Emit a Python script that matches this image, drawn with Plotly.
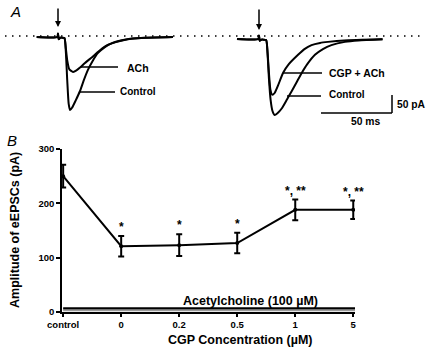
import plotly.graph_objects as go

# ---------------- Panel B data ----------------
conc_labels = ["control", "0", "0.2", "0.5", "1", "5"]
amplitude = [250, 121, 123, 127, 188, 188]
amplitude_err = [21, 19, 20, 19, 19, 17]
sig_marks = ["", "*", "*", "*", "*, **", "*, **"]

# ---------------- Panel A traces (time ms from stimulus, current pA) ----------------
ctrlA_t = [-15, -0.4, 0, 0.5, 1.5, 4.5, 5.5, 6.5, 7.5, 8.5, 10, 12.5, 15.5, 18, 21, 24.5, 28, 33, 38, 45, 52, 62, 81]
ctrlA_i = [0, 0, 10, -6, -2, -3, -40, -120, -185, -203, -196, -176, -150, -122, -92, -66, -45, -28, -17, -9, -4, -2, 0]
achA_t = [-15, -0.4, 0, 0.5, 1.5, 4.5, 5.5, 6.5, 8, 10.6, 13, 15.5, 19, 24, 28, 31, 35, 40, 46, 52, 62, 81]
achA_i = [0, 0, 10, -6, -2, -3, -30, -65, -90, -97, -93, -85, -72, -56, -42, -32, -22, -15, -9, -5, -2, 0]

ctrlB_t = [-15.5, -0.4, 0, 0.5, 1.5, 5.0, 6.0, 7.0, 8.2, 9.5, 11, 13, 16, 19.7, 23, 26.5, 30, 34, 39.4, 45, 51, 60.5, 70, 87]
ctrlB_i = [0, 0, 10, -5, -2, -3, -40, -110, -170, -200, -211, -206, -193, -168, -145, -120, -95, -70, -44, -28, -17, -8, -4, -1]
cgpB_t = [-15.5, -0.4, 0, 0.5, 1.5, 5.0, 6.0, 7.0, 8.0, 9.3, 11, 13.5, 17, 21, 27.5, 32, 37, 43, 48.6, 60, 87]
cgpB_i = [0, 0, 10, -5, -2, -3, -35, -95, -140, -155, -150, -128, -94, -70, -44, -28, -17, -11, -8, -4, -1]

W, H = 429, 349
def px(x):
    return x / W
def py(y):
    return 1 - y / H

# pixel scale of panel A (from scale bar: 50 ms = 71 px, 50 pA = 18 px)
MSPX = 71 / 50.0
PAPX = 18 / 50.0

FONT = "Liberation Sans, Arial, sans-serif"

fig = go.Figure()

# Panel A traces
for t, i, ax in [(ctrlA_t, ctrlA_i, "2"), (achA_t, achA_i, "2"), (ctrlB_t, ctrlB_i, "3"), (cgpB_t, cgpB_i, "3")]:
    fig.add_trace(go.Scatter(x=t, y=i, mode="lines", line=dict(color="black", width=2, shape="spline", smoothing=0.5),
                             xaxis="x" + ax, yaxis="y" + ax, showlegend=False, hoverinfo="skip"))

# Panel B line
fig.add_trace(go.Scatter(
    x=list(range(len(conc_labels))), y=amplitude, mode="lines+markers",
    line=dict(color="black", width=2), marker=dict(color="black", size=4),
    error_y=dict(type="data", array=amplitude_err, color="black", thickness=2, width=3),
    showlegend=False, hoverinfo="skip"))

fig.update_layout(
    template="none",
    width=W, height=H, margin=dict(l=0, r=0, t=0, b=0, pad=0, autoexpand=False),
    paper_bgcolor="white", plot_bgcolor="white",
    font=dict(family=FONT, color="black"),
    xaxis=dict(domain=[px(62), px(355)], range=[-0.02, 5.03], tickmode="array",
               tickvals=list(range(len(conc_labels))), ticktext=conc_labels,
               ticks="outside", ticklen=3, tickwidth=1.5, tickcolor="black",
               showline=True, linecolor="black", linewidth=1.5, showgrid=False, zeroline=False,
               tickfont=dict(size=9.5, family=FONT, weight="bold"), anchor="y", automargin=False),
    yaxis=dict(domain=[py(312), py(149)], range=[0, 300], tickvals=[0, 100, 200, 300],
               ticks="outside", ticklen=4, tickwidth=1.5, tickcolor="black",
               showline=True, linecolor="black", linewidth=1.5, showgrid=False, zeroline=False,
               tickfont=dict(size=9.5, family=FONT, weight="bold"), anchor="x", automargin=False),
    xaxis2=dict(domain=[0, px(215)], range=[(0 - 58) / MSPX, (215 - 58) / MSPX], visible=False,
                anchor="y2", automargin=False),
    yaxis2=dict(domain=[py(130), 1], range=[-(130 - 37) / PAPX, 37 / PAPX], visible=False,
                anchor="x2", automargin=False),
    xaxis3=dict(domain=[px(215), 1], range=[(215 - 259) / MSPX, (429 - 259) / MSPX], visible=False,
                anchor="y3", automargin=False),
    yaxis3=dict(domain=[py(130), 1], range=[-(130 - 39) / PAPX, 39 / PAPX], visible=False,
                anchor="x3", automargin=False),
)

shapes = []
# dotted baseline
shapes.append(dict(type="line", xref="paper", yref="paper", x0=px(5), x1=px(425), y0=py(36), y1=py(36),
                   line=dict(color="black", width=1.5, dash="1.5px,5.5px")))
# label leader lines panel A left
shapes.append(dict(type="line", xref="x2", yref="y2", x0=(80 - 58) / MSPX, x1=(118 - 58) / MSPX,
                   y0=-(67 - 37) / PAPX, y1=-(67 - 37) / PAPX, line=dict(color="black", width=1.5)))
shapes.append(dict(type="line", xref="x2", yref="y2", x0=(80 - 58) / MSPX, x1=(115 - 58) / MSPX,
                   y0=-(92 - 37) / PAPX, y1=-(92 - 37) / PAPX, line=dict(color="black", width=1.5)))
# label leader lines panel A right
shapes.append(dict(type="line", xref="x3", yref="y3", x0=(283 - 259) / MSPX, x1=(322 - 259) / MSPX,
                   y0=-(73 - 39) / PAPX, y1=-(73 - 39) / PAPX, line=dict(color="black", width=1.5)))
shapes.append(dict(type="line", xref="x3", yref="y3", x0=(287 - 259) / MSPX, x1=(321 - 259) / MSPX,
                   y0=-(96 - 39) / PAPX, y1=-(96 - 39) / PAPX, line=dict(color="black", width=1.5)))
# scale bar: 50 ms, 50 pA
sb_t1 = (392 - 259) / MSPX
sb_i0 = -(113 - 39) / PAPX
shapes.append(dict(type="line", xref="x3", yref="y3", x0=sb_t1 - 50, x1=sb_t1, y0=sb_i0, y1=sb_i0,
                   line=dict(color="black", width=1.5)))
shapes.append(dict(type="line", xref="x3", yref="y3", x0=sb_t1, x1=sb_t1, y0=sb_i0, y1=sb_i0 + 50,
                   line=dict(color="black", width=1.5)))
# acetylcholine bar
shapes.append(dict(type="rect", xref="x", yref="y", x0=0, x1=5.03, y0=1.5, y1=7, fillcolor="#9a9a9a",
                   line=dict(width=0)))
shapes.append(dict(type="line", xref="x", yref="y", x0=0, x1=5.03, y0=7, y1=7, line=dict(color="black", width=2)))
fig.update_layout(shapes=shapes)

ann = []
def text(x, y, s, size=10, xanchor="center", bold=True, italic=False, xref="paper", yref="paper", angle=0):
    f = dict(size=size, family=FONT, color="black")
    if bold:
        f["weight"] = "bold"
    if italic:
        f["style"] = "italic"
    ann.append(dict(x=x, y=y, xref=xref, yref=yref, text=s, showarrow=False, xanchor=xanchor,
                    yanchor="middle", font=f, textangle=angle))

text(px(8), py(11), "A", size=15, xanchor="left", bold=False, italic=True)
text(px(5), py(140), "B", size=15, xanchor="left", bold=False, italic=True)
text(px(125), py(68), "ACh", size=10.5, xanchor="left")
text(px(118), py(92), "Control", size=10, xanchor="left")
text(px(327), py(73), "CGP + ACh", size=10.5, xanchor="left")
text(px(327), py(94), "Control", size=10, xanchor="left")
text(px(428), py(104), "50 pA", size=10.3, xanchor="right")
text(px(365), py(122), "50 ms", size=10.3)
text(px(250), py(301), "Acetylcholine (100 \u00b5M)", size=12.5)
text(px(240), py(340), "CGP Concentration (\u00b5M)", size=12.5)
text(px(15), py(230), "Amplitude of eEPSCs (pA)", size=12.5, angle=-90)

# significance stars
for k, s in enumerate(sig_marks):
    if s:
        ann.append(dict(x=k, y=amplitude[k] + amplitude_err[k], xref="x", yref="y", text=s, showarrow=False,
                        yanchor="bottom", yshift=0, font=dict(size=12, family=FONT, color="black", weight="bold")))

# stimulus arrows
ann.append(dict(x=0, y=(37 - 27) / PAPX, xref="x2", yref="y2", ax=0, ay=-20, text="", showarrow=True,
                arrowhead=2, arrowsize=0.8, arrowwidth=1.5, arrowcolor="black"))
ann.append(dict(x=0, y=(39 - 30) / PAPX, xref="x3", yref="y3", ax=0, ay=-22, text="", showarrow=True,
                arrowhead=2, arrowsize=0.8, arrowwidth=1.5, arrowcolor="black"))
fig.update_layout(annotations=ann)

fig.write_html("out.html", config={"displayModeBar": False},
               post_script="document.body.style.margin='0px';document.body.style.overflow='hidden';")
